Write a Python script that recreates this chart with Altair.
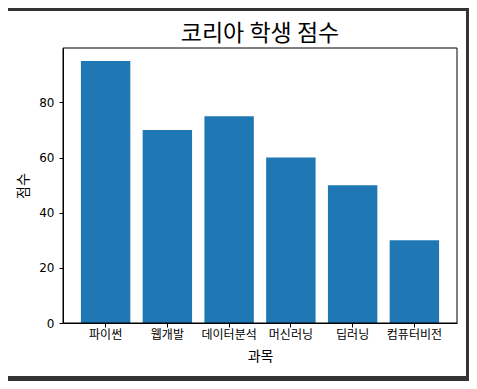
import altair as alt
import pandas as pd

subjects = ["파이썬", "웹개발", "데이터분석", "머신러닝", "딥러닝", "컴퓨터비전"]
scores = [95, 70, 75, 60, 50, 30]
y_ticks = [0, 20, 40, 60, 80]

df = pd.DataFrame({"과목": subjects, "점수": scores})

W, H = 394, 275
KR = "Noto Sans CJK KR"

panel = alt.Chart(pd.DataFrame({"k": [0]})).mark_rect(color="white").encode(
    x=alt.value(-56), x2=alt.value(403), y=alt.value(-37), y2=alt.value(328)
)

bars = alt.Chart(df).mark_bar(color="#1f77b4").encode(
    x=alt.X(
        "과목:N",
        sort=subjects,
        scale=alt.Scale(paddingInner=0.2, paddingOuter=0.29),
        axis=alt.Axis(
            labelAngle=0, labelFont=KR, labelFontSize=12, labelColor="black",
            tickSize=4, tickColor="black", labelPadding=2,
            domainColor="black", titleFont=KR, titleFontSize=14,
            titleFontWeight="normal", titleColor="black", titlePadding=9,
            zindex=1,
        ),
    ),
    y=alt.Y(
        "점수:Q",
        scale=alt.Scale(domain=[0, 99.75], nice=False),
        axis=alt.Axis(
            values=y_ticks, grid=False, labelFont="DejaVu Sans", labelFontSize=12,
            labelColor="black", tickSize=4, tickColor="black", labelPadding=5,
            domainColor="black", titleFont=KR, titleFontSize=14,
            titleFontWeight="normal", titleColor="black", titlePadding=8,
            zindex=1,
        ),
    ),
)

frame = alt.Chart(pd.DataFrame({"k": [0]})).mark_rect(
    filled=False, stroke="black", strokeWidth=1
).encode(x=alt.value(0), x2=alt.value(W), y=alt.value(0), y2=alt.value(H))

chart = (
    alt.layer(panel, bars, frame)
    .properties(
        width=W,
        height=H,
        title=alt.TitleParams(
            "코리아 학생 점수", font=KR, fontSize=23, fontWeight="normal",
            color="black", anchor="middle", offset=0, dy=35,
        ),
        background="#333333",
        padding={"left": 55, "top": 40, "right": 12, "bottom": 58},
        autosize=alt.AutoSizeParams(type="none"),
    )
    .configure_view(stroke=None)
)

chart.save("out.html", embed_options={"renderer": "svg", "actions": False})
